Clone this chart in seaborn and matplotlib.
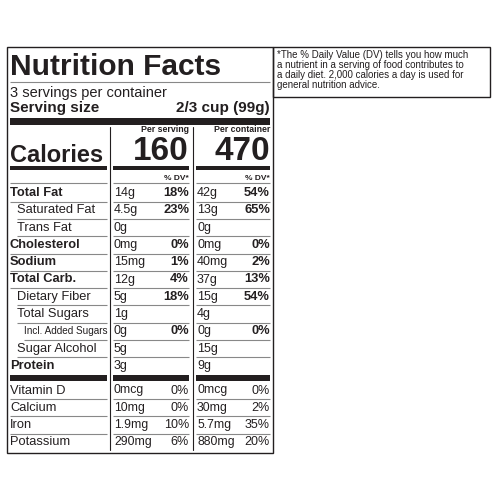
import matplotlib
matplotlib.use("Agg")
import matplotlib.pyplot as plt
import seaborn as sns

sns.set_style("white")
plt.rcParams['font.family'] = ['Liberation Sans', 'DejaVu Sans']

servings_text = "3 servings per container"
serving_size = "2/3 cup (99g)"
calories = ["160", "470"]
nutrients = ["Total Fat", "Saturated Fat", "Trans Fat", "Cholesterol", "Sodium", "Total Carb.",
             "Dietary Fiber", "Total Sugars", "Incl. Added Sugars", "Sugar Alcohol", "Protein"]
indent = [0, 1, 1, 0, 0, 0, 1, 1, 2, 1, 0]
bold = [True, False, False, True, True, True, False, False, False, False, True]
serv_amt = ["14g", "4.5g", "0g", "0mg", "15mg", "12g", "5g", "1g", "0g", "5g", "3g"]
serv_dv = ["18%", "23%", "", "0%", "1%", "4%", "18%", "", "0%", "", ""]
cont_amt = ["42g", "13g", "0g", "0mg", "40mg", "37g", "15g", "4g", "0g", "15g", "9g"]
cont_dv = ["54%", "65%", "", "0%", "2%", "13%", "54%", "", "0%", "", ""]
vitamins = ["Vitamin D", "Calcium", "Iron", "Potassium"]
vit_serv_amt = ["0mcg", "10mg", "1.9mg", "290mg"]
vit_serv_dv = ["0%", "0%", "10%", "6%"]
vit_cont_amt = ["0mcg", "30mg", "5.7mg", "880mg"]
vit_cont_dv = ["0%", "2%", "35%", "20%"]
footnote = ("*The % Daily Value (DV) tells you how much\na nutrient in a serving of food contributes to\n"
            "a daily diet. 2,000 calories a day is used for\ngeneral nutrition advice.")

C = "#231f20"
fig = plt.figure(figsize=(5, 5), dpi=100)
ax = fig.add_axes([0, 0, 1, 1])
ax.set_xlim(0, 500); ax.set_ylim(500, 0); ax.axis('off')

def hl(y, x0, x1, lw=0.8, col="#888888"):
    ax.plot([x0, x1], [y, y], color=col, lw=lw, solid_capstyle='butt')

ax.add_patch(plt.Rectangle((7, 47), 266, 406, fill=False, ec=C, lw=1.0))
ax.add_patch(plt.Rectangle((273, 47), 217, 50, fill=False, ec=C, lw=1.0))
ax.text(277, 50, footnote, fontsize=7.0, va='top', ha='left', color=C, linespacing=1.0)

ax.text(10, 67, "Nutrition Facts", fontsize=21.5, weight='bold', va='center', color=C)
hl(82, 10, 270, 0.8)
ax.text(10, 93, servings_text, fontsize=10.5, va='center', color=C)
ax.text(10, 108, "Serving size", fontsize=11, weight='bold', va='center', color=C)
ax.text(270, 108, serving_size, fontsize=11, weight='bold', va='center', ha='right', color=C)
ax.add_patch(plt.Rectangle((10, 118), 260, 7, color=C, lw=0))

cols = [(10, 107), (113, 189), (196, 270)]
ax.plot([110, 110], [127, 450], color=C, lw=0.8)
ax.plot([193, 193], [127, 450], color=C, lw=0.8)
ax.text(10, 155, "Calories", fontsize=17, weight='bold', va='center', color=C)
for (x0, x1), hdr, cal in zip(cols[1:], ["Per serving", "Per container"], calories):
    ax.text(x1, 130, hdr, fontsize=6.3, weight='bold', ha='right', va='center', color=C)
    ax.text(x1, 152, cal, fontsize=24, weight='bold', ha='right', va='center', color=C)
    ax.text(x1, 178, "% DV*", fontsize=6, weight='bold', ha='right', va='center', color=C)
for x0, x1 in cols:
    ax.add_patch(plt.Rectangle((x0, 166), x1 - x0, 4, color=C, lw=0))
    hl(183, x0, x1)

y0, dy = 193, 17.3
for i, name in enumerate(nutrients):
    y = y0 + i * dy
    ax.text(10 + 7 * indent[i], y, name, fontsize=9.3 if indent[i] < 2 else 7.2,
            weight='bold' if bold[i] else 'normal', va='center', color=C)
    ax.text(114, y, serv_amt[i], fontsize=9, va='center', color=C)
    ax.text(189, y, serv_dv[i], fontsize=9.3, weight='bold', va='center', ha='right', color=C)
    ax.text(197, y, cont_amt[i], fontsize=9, va='center', color=C)
    ax.text(270, y, cont_dv[i], fontsize=9.3, weight='bold', va='center', ha='right', color=C)
    if i < len(nutrients) - 1:
        for x0, x1 in cols:
            hl(y + dy / 2, x0 + (7 * indent[i] if x0 == 10 else 0), x1)
for x0, x1 in cols:
    ax.add_patch(plt.Rectangle((x0, 375), x1 - x0, 6, color=C, lw=0))

y1 = 390.5
for i, name in enumerate(vitamins):
    y = y1 + i * dy
    ax.text(10, y, name, fontsize=9.3, va='center', color=C)
    ax.text(114, y, vit_serv_amt[i], fontsize=8.8, va='center', color=C)
    ax.text(189, y, vit_serv_dv[i], fontsize=9, va='center', ha='right', color=C)
    ax.text(197, y, vit_cont_amt[i], fontsize=8.8, va='center', color=C)
    ax.text(270, y, vit_cont_dv[i], fontsize=9, va='center', ha='right', color=C)
    if i < len(vitamins) - 1:
        for x0, x1 in cols:
            hl(y + dy / 2, x0, x1)

fig.savefig("out.png", dpi=100, facecolor='white')
